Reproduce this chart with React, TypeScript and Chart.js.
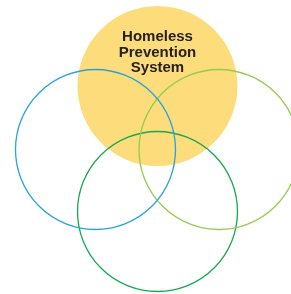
import React, { useEffect, useRef } from "react";
import { Chart, registerables } from "chart.js";

Chart.register(...registerables);

// Circle centres (x, y) and radii
const circleNames = ["Blue", "Light green", "Dark green", "Homeless Prevention System"];
const circleX = [95.5, 219, 157.5, 157.5];
const circleY = [149.5, 149.5, 211.5, 86];
const circleR = [80, 80, 80, 80];
const circleStroke = ["#29a3d9", "#94cc4f", "#16a94f", "rgba(0,0,0,0)"];
const circleFill = ["rgba(0,0,0,0)", "rgba(0,0,0,0)", "rgba(0,0,0,0)", "#fddc7c"];
const titleLines = ["Homeless", "Prevention", "System"];
const titleLineY = [36.5, 52.5, 68];

export default function App() {
  const ref = useRef<HTMLCanvasElement | null>(null);
  useEffect(() => {
    document.body.style.margin = "0";
    const canvas = ref.current;
    if (!canvas) return;
    const textPlugin = {
      id: "title-text",
      afterDatasetsDraw(chart: any) {
        const ctx = chart.ctx;
        const xs = chart.scales.x;
        const ys = chart.scales.y;
        ctx.save();
        ctx.fillStyle = "#262223";
        ctx.font = "bold 15px 'Liberation Sans', Arial, sans-serif";
        ctx.textAlign = "center";
        ctx.textBaseline = "middle";
        titleLines.forEach((t, i) => {
          ctx.fillText(t, xs.getPixelForValue(circleX[3]), ys.getPixelForValue(titleLineY[i]));
        });
        ctx.restore();
      },
    };
    const chart = new Chart(canvas, {
      type: "bubble",
      data: {
        datasets: circleNames.map((name, i) => ({
          label: name,
          data: [{ x: circleX[i], y: circleY[i], r: circleR[i] }],
          backgroundColor: circleFill[i],
          borderColor: circleStroke[i],
          borderWidth: i === 3 ? 0 : 1.3,
          hoverRadius: 0,
          order: i === 3 ? 10 : i,
        })),
      },
      options: {
        animation: false,
        responsive: false,
        maintainAspectRatio: false,
        layout: { padding: 0, autoPadding: false } as any,
        clip: false as any,
        plugins: { legend: { display: false }, tooltip: { enabled: false } },
        scales: {
          x: { type: "linear", min: 0, max: 291, display: false },
          y: { type: "linear", min: 0, max: 294, reverse: true, display: false },
        },
      },
      plugins: [textPlugin],
    });
    return () => chart.destroy();
  }, []);
  return (
    <div style={{ width: 291, height: 294 }}>
      <canvas ref={ref} width={291} height={294} style={{ display: "block" }} />
    </div>
  );
}
